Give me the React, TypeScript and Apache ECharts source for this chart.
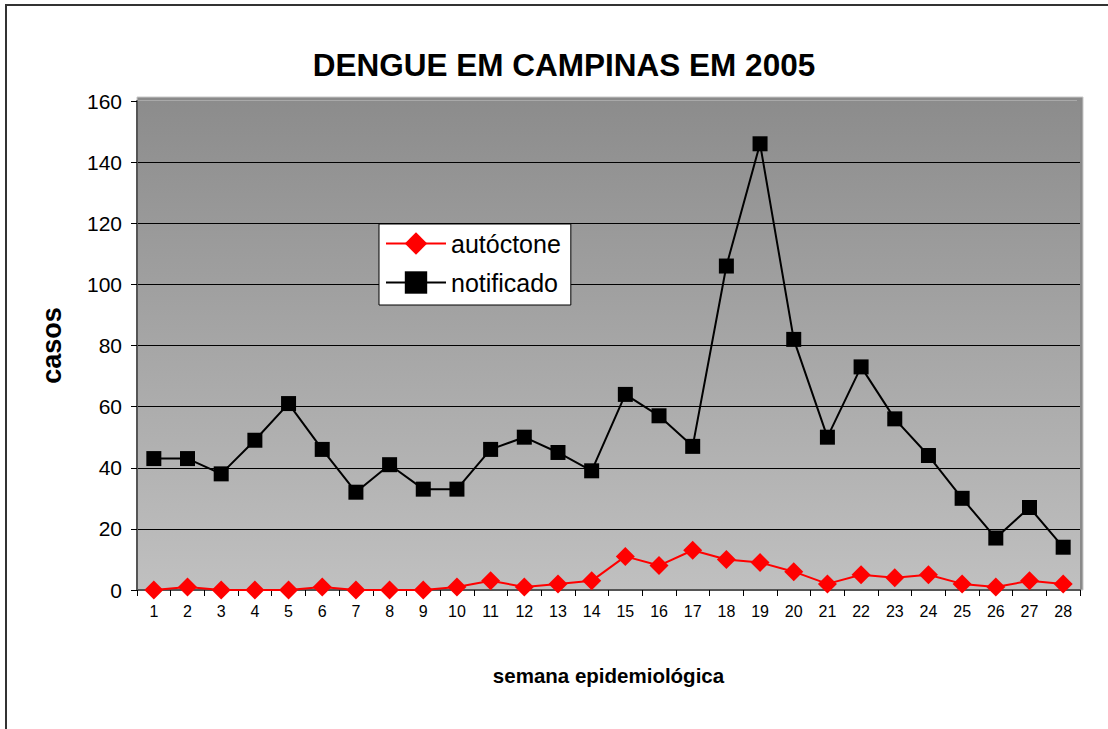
import React, { useEffect, useRef } from "react";
import * as echarts from "echarts";

const weeks = ["1","2","3","4","5","6","7","8","9","10","11","12","13","14","15","16","17","18","19","20","21","22","23","24","25","26","27","28"];
const autoctone = [0,1,0,0,0,1,0,0,0,1,3,1,2,3,11,8,13,10,9,6,2,5,4,5,2,1,3,2];
const notificado = [43,43,38,49,61,46,32,41,33,33,46,50,45,39,64,57,47,106,146,82,50,73,56,44,30,17,27,14];
const yTicks = [0, 20, 40, 60, 80, 100, 120, 140, 160];

const FONT = "Arial, 'Liberation Sans', sans-serif";

export default function App() {
  const ref = useRef<HTMLDivElement>(null);
  useEffect(() => {
    if (!ref.current) return;
    const chart = echarts.init(ref.current, null, { renderer: "svg" });
    const gridLeft = 137, gridRight = 1080, gridTop = 101, gridBottom = 590;
    chart.setOption({
      animation: false,
      backgroundColor: "#ffffff",
      title: {
        text: "DENGUE EM CAMPINAS EM 2005",
        left: 559,
        top: 44,
        textAlign: "center",
        textStyle: { fontFamily: FONT, fontSize: 31.5, fontWeight: "bold", color: "#000" },
      },
      legend: {
        orient: "vertical",
        left: 379,
        top: 224,
        width: 194,
        padding: [7, 10, 10, 6],
        itemWidth: 60,
        itemHeight: 28,
        itemGap: 14,
        backgroundColor: "#ffffff",
        borderColor: "#000000",
        borderWidth: 1,
        textStyle: { fontFamily: FONT, fontSize: 25, color: "#000", padding: [0, 0, 0, 0] },
        data: ["autóctone", "notificado"],
      },
      graphic: [
        {
          type: "rect",
          shape: { x: 6, y: 5, width: 1120, height: 740 },
          style: { fill: "none", stroke: "#333333", lineWidth: 2 },
          silent: true,
          z: 100,
        },
        {
          type: "polygon",
          shape: { points: [[gridLeft, gridTop], [gridLeft, 97], [1083, 97], [1083, gridBottom], [gridRight - 3, gridBottom], [gridRight - 3, gridTop]] },
          style: { fill: "#8a8a8a", stroke: "#c8c8c8", lineWidth: 1 },
          silent: true,
          z: -1,
        },
      ],
      grid: {
        left: gridLeft,
        right: 1108 - gridRight,
        top: gridTop,
        bottom: 729 - gridBottom,
        show: true,
        borderWidth: 0,
        backgroundColor: new echarts.graphic.LinearGradient(0, 0, 0, 1, [
          { offset: 0, color: "#8c8c8c" },
          { offset: 1, color: "#c0c0c0" },
        ]),
      },
      xAxis: {
        type: "category",
        data: weeks,
        boundaryGap: true,
        name: "semana epidemiológica",
        nameLocation: "middle",
        nameGap: 75,
        nameTextStyle: { fontFamily: FONT, fontSize: 20.5, fontWeight: "bold", color: "#000" },
        axisLine: { show: true, lineStyle: { color: "#555", width: 2 } },
        axisTick: { show: true, alignWithLabel: false, length: 6, lineStyle: { color: "#000" } },
        axisLabel: { fontFamily: FONT, fontSize: 16, color: "#000", margin: 13, interval: 0 },
        splitLine: { show: false },
      },
      yAxis: {
        type: "value",
        min: 0,
        max: 160,
        interval: 20,
        name: "casos",
        nameLocation: "middle",
        nameGap: 72,
        nameTextStyle: { fontFamily: FONT, fontSize: 27, fontWeight: "bold", color: "#000" },
        axisLine: { show: true, lineStyle: { color: "#555", width: 2 } },
        axisTick: { show: true, length: 6, lineStyle: { color: "#000" } },
        axisLabel: {
          fontFamily: FONT,
          fontSize: 21,
          color: "#000",
          margin: 15,
          formatter: (v: number) => (yTicks.includes(v) ? String(v) : ""),
        },
        splitLine: {
          show: true,
          lineStyle: {
            color: ["#000", "#000", "#000", "#000", "#000", "#000", "#000", "#000", "rgba(0,0,0,0)"],
            width: 1,
          },
        },
      },
      series: [
        {
          name: "autóctone",
          type: "line",
          data: autoctone,
          symbol: "diamond",
          symbolSize: 19,
          itemStyle: { color: "#ff0000" },
          lineStyle: { color: "#ff0000", width: 2 },
          z: 3,
        },
        {
          name: "notificado",
          type: "line",
          data: notificado,
          symbol: "rect",
          symbolSize: 15,
          itemStyle: { color: "#000000" },
          lineStyle: { color: "#000000", width: 2 },
          z: 2,
        },
      ],
    });
    return () => chart.dispose();
  }, []);
  return (
    <div
      ref={ref}
      style={{ position: "fixed", left: 0, top: 0, width: 1108, height: 729 }}
    />
  );
}
